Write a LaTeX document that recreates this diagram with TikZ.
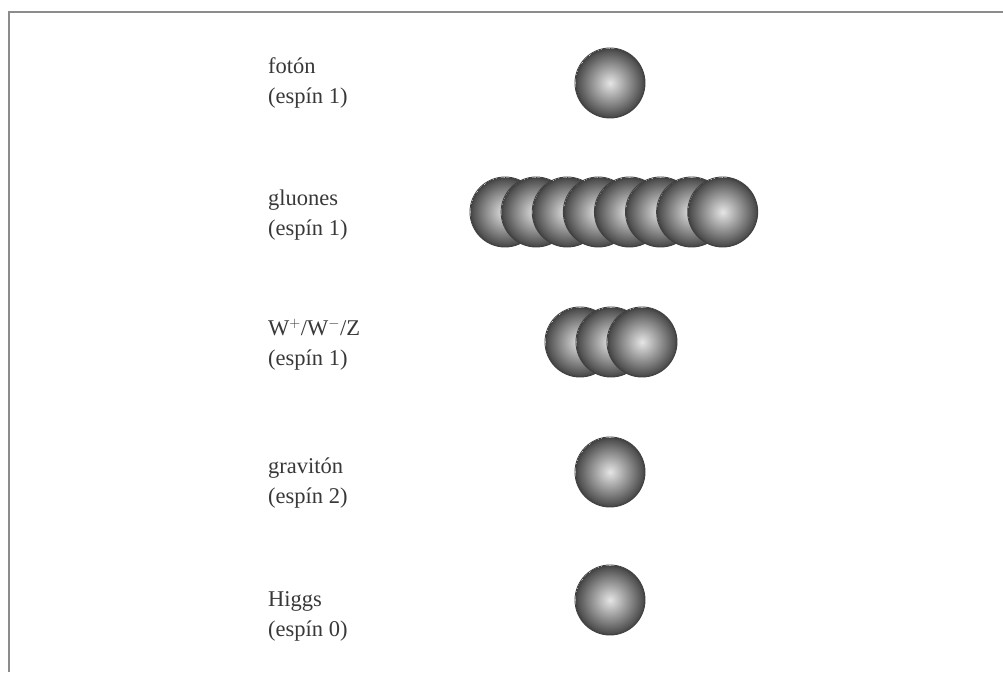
\documentclass[tikz,border=0pt]{standalone}
\usepackage{fontspec}
\setmainfont{Liberation Serif}
\pgfdeclareradialshading{sphshade}{\pgfpoint{0bp}{0bp}}{color(0bp)=(black!10); color(8bp)=(black!30); color(16bp)=(black!50); color(23bp)=(black!68); color(25bp)=(black!75)}
\tikzset{
  lbl/.style={anchor=base west, inner sep=0pt, text=black!78, font=\fontsize{22.5}{30}\selectfont},
  sph/.style={circle, minimum size=70pt, inner sep=0pt, shading=sphshade, draw=black!75, line width=0.9pt},
  frameline/.style={draw=black!45, line width=2pt}
}
\begin{document}
\begin{tikzpicture}[x=1pt,y=-1pt]
\useasboundingbox (0,0) rectangle (1003,672);
\fill[white] (0,0) rectangle (1003,672);
\coordinate (ftl) at (9,12);
\coordinate (ftr) at (1003,12);
\coordinate (fbl) at (9,672);
\draw[frameline] (ftr) -- (ftl) -- (fbl);

% labels
\node[lbl] (l1a) at (268,73) {fotón};
\node[lbl] (l1b) at (268,103) {(espín 1)};
\node[lbl] (l2a) at (268,205) {gluones};
\node[lbl] (l2b) at (268,235) {(espín 1)};
\node[lbl] (l3a) at (268,335) {W$^{+}$/W$^{-}$/Z};
\node[lbl] (l3b) at (268,365) {(espín 1)};
\node[lbl] (l4a) at (268,473) {gravitón};
\node[lbl] (l4b) at (268,503) {(espín 2)};
\node[lbl] (l5a) at (268,606) {Higgs};
\node[lbl] (l5b) at (268,636) {(espín 0)};

% spheres
\node[sph] (foton) at (610,83) {};
\foreach \i in {0,...,7}{
  \node[sph] (gluon\i) at ({505+31.1*\i},212) {};
}
\foreach \i in {0,1,2}{
  \node[sph] (wz\i) at ({580+31*\i},342) {};
}
\node[sph] (graviton) at (610,472) {};
\node[sph] (higgs) at (610,600) {};
\end{tikzpicture}
\end{document}
